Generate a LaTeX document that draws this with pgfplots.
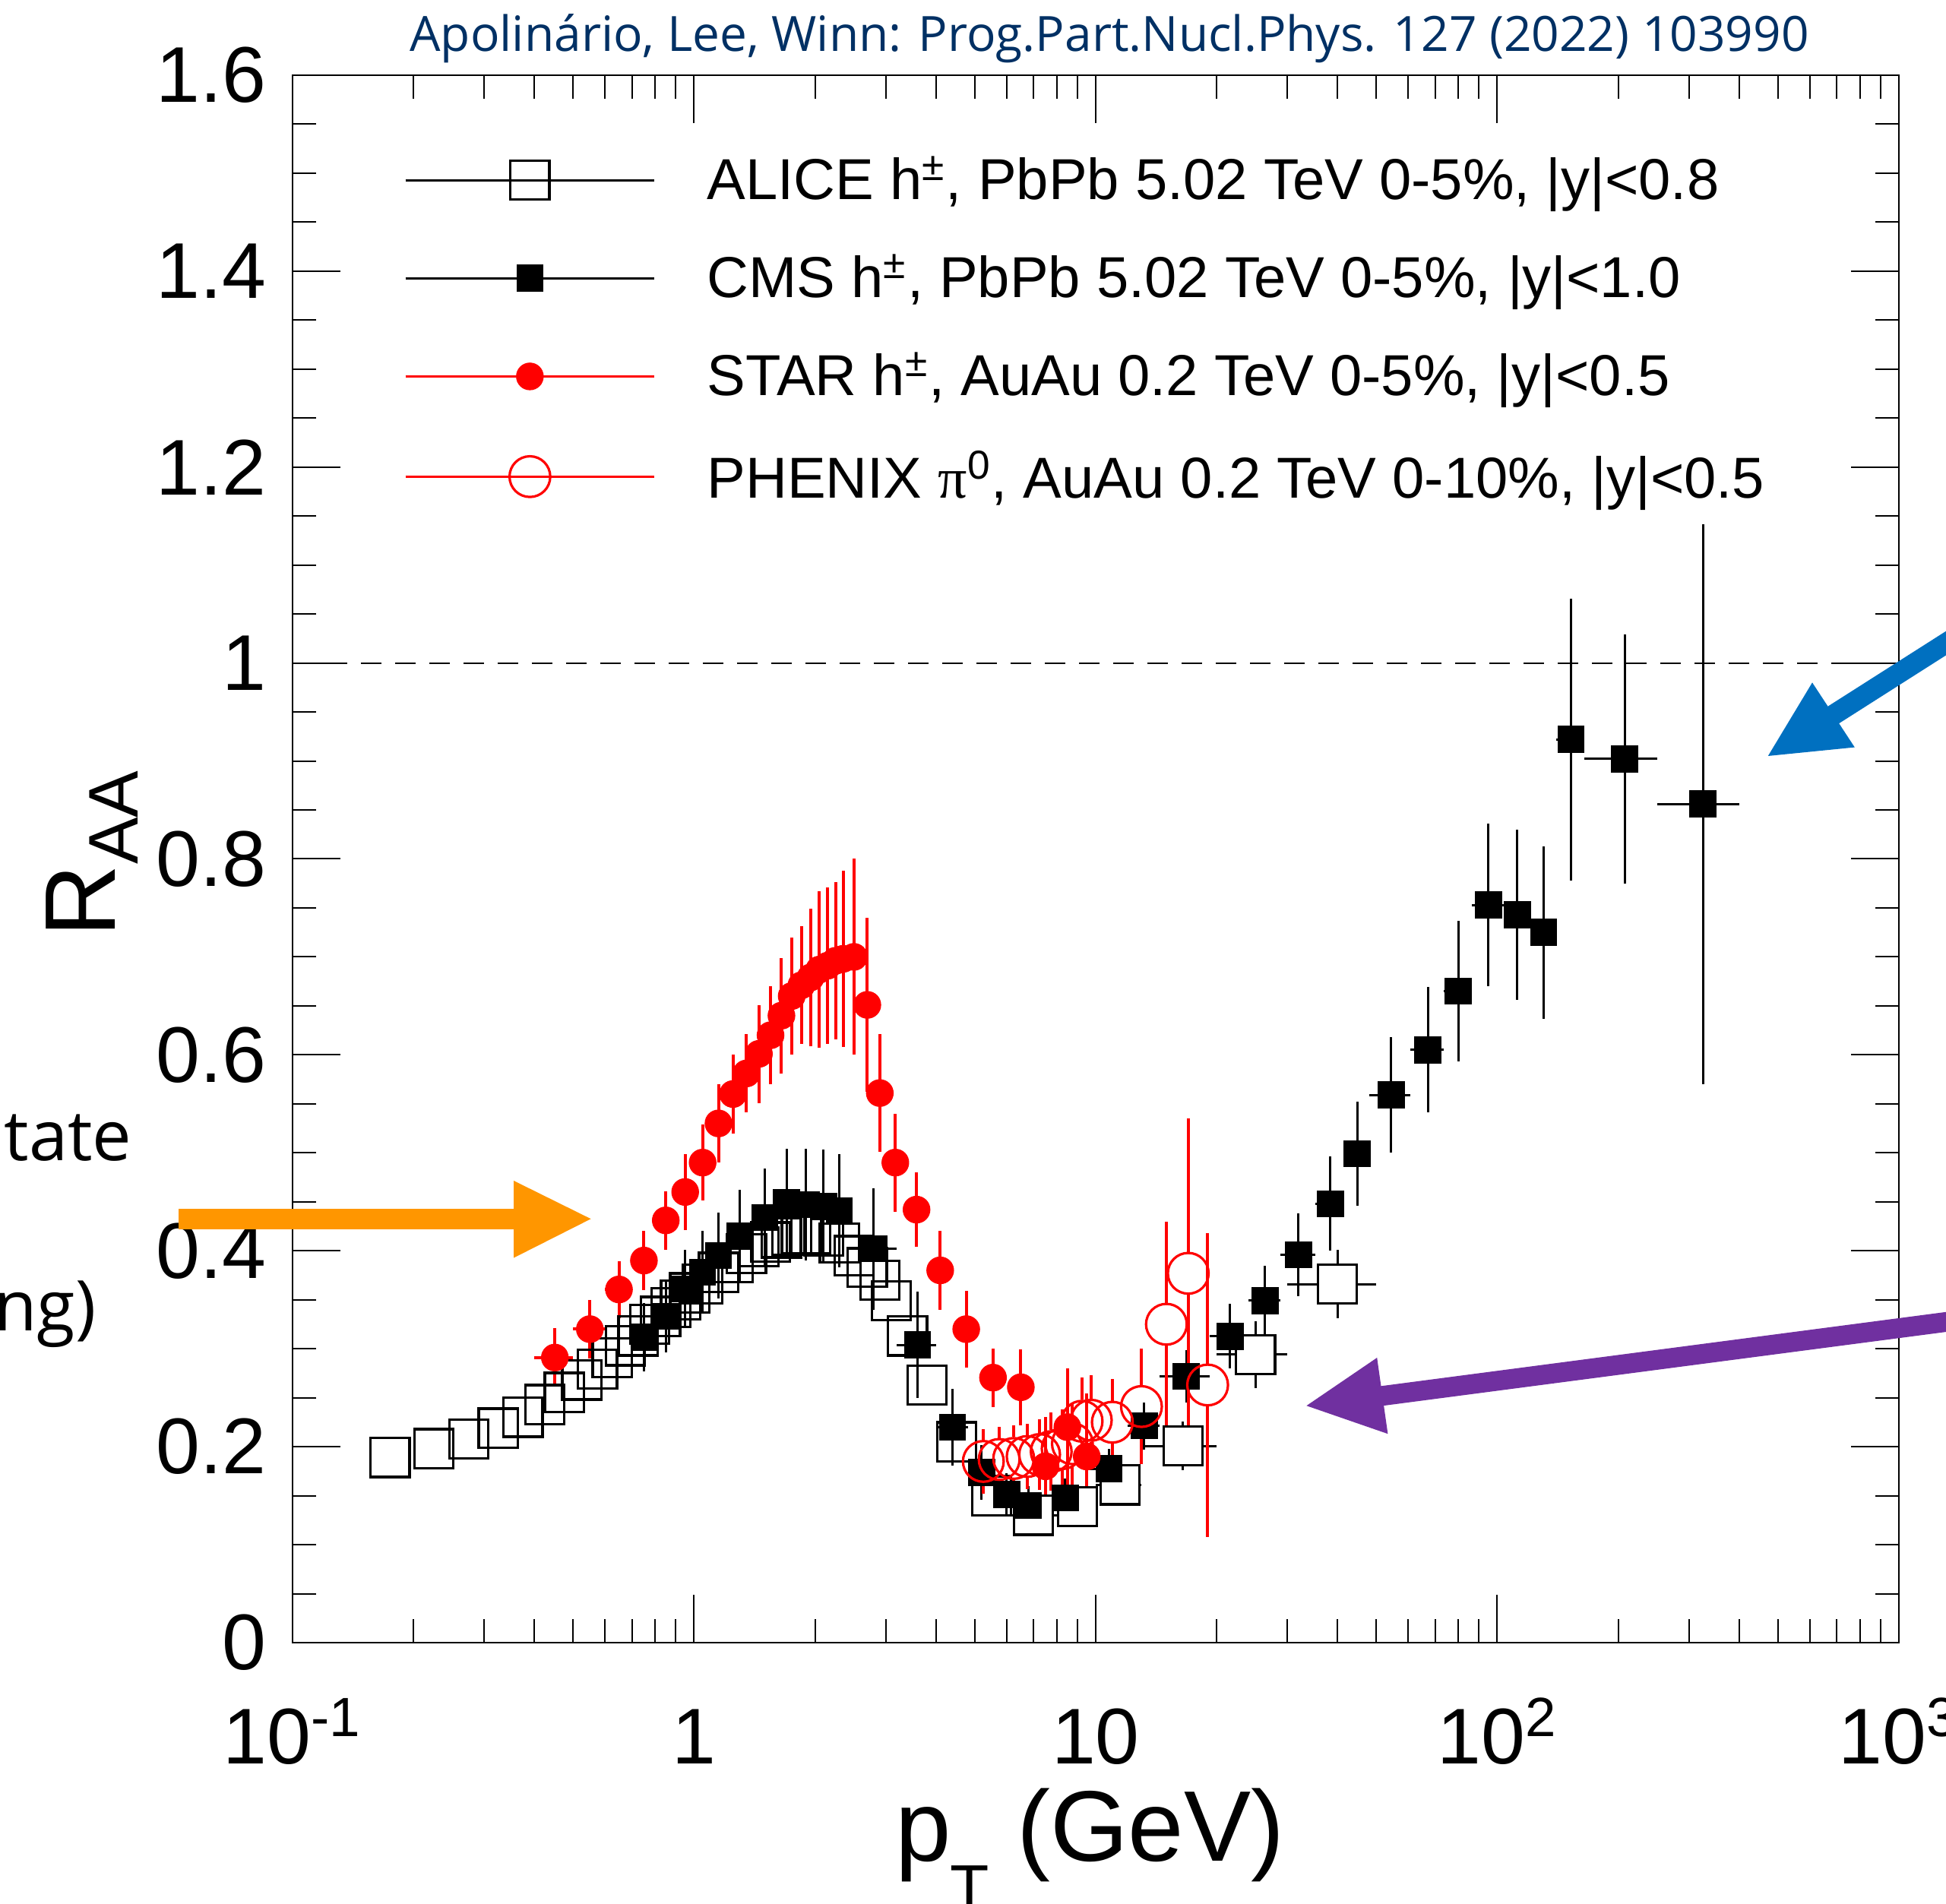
\documentclass[border=0pt]{standalone}
\usepackage{pgfplots}
\usepackage{pgfplotstable}
\pgfplotsset{compat=1.18}
\usepackage{fontspec}
\setmainfont{Liberation Sans}
\newfontfamily\slidefont{Open Sans}
\newfontfamily\greekserif{Liberation Serif}
\definecolor{citeblue}{RGB}{0,48,100}
\definecolor{arrorange}{RGB}{255,150,0}
\definecolor{arrblue}{RGB}{0,112,192}
\definecolor{arrpurple}{RGB}{112,48,160}

\pgfplotstableread{
x y
0.175 0.189
0.225 0.198
0.275 0.208
0.325 0.219
0.375 0.230
0.425 0.243
0.475 0.2555
0.525 0.268
0.575 0.279
0.625 0.291
0.675 0.303
0.725 0.313
0.775 0.325
0.825 0.333
0.875 0.342
0.925 0.350
0.975 0.357
1.05 0.366
1.15 0.378
1.25 0.388
1.35 0.397
1.45 0.404
1.55 0.409
1.65 0.413
1.75 0.416
1.85 0.417
1.95 0.417
2.1 0.415
2.3 0.408
2.5 0.395
2.7 0.383
2.9 0.370
3.1 0.349
3.4 0.313
3.8 0.263
4.5 0.205
5.5 0.150
}\alicelow

\pgfplotstableread{
x y xm xp ey
7 0.130 1 1 0.010
9 0.139 1 1 0.012
11.5 0.161 1.5 1.5 0.015
16.5 0.2007 3.5 3.5 0.025
25 0.294 5 5 0.034
40 0.366 10 10 0.035
}\alicehigh

\pgfplotstableread{
x y xm xp ey
0.75 0.312 0.05 0.05 0.035
0.85 0.333 0.05 0.05 0.037
0.95 0.361 0.05 0.05 0.040
1.05 0.378 0.05 0.05 0.042
1.15 0.395 0.05 0.05 0.044
1.3 0.415 0.1 0.1 0.047
1.5 0.434 0.1 0.1 0.050
1.7 0.449 0.1 0.1 0.055
1.9 0.447 0.1 0.1 0.057
2.1 0.445 0.1 0.1 0.058
2.3 0.441 0.1 0.1 0.058
2.8 0.402 0.4 0.4 0.062
3.6 0.304 0.4 0.4 0.054
4.4 0.220 0.4 0.4 0.039
5.2 0.1735 0.4 0.4 0.028
6.0 0.151 0.4 0.4 0.022
6.8 0.140 0.4 0.4 0.020
8.4 0.1476 1.2 1.2 0.020
10.8 0.1774 1.2 1.2 0.020
13.2 0.2213 1.2 1.2 0.024
16.8 0.2718 2.4 2.4 0.027
21.6 0.3127 2.4 2.4 0.033
26.4 0.349 2.4 2.4 0.036
32.0 0.396 3.2 3.2 0.042
38.4 0.448 3.2 3.2 0.048
44.8 0.499 3.2 3.2 0.053
54.4 0.559 6.4 6.4 0.059
67.2 0.605 6.4 6.4 0.064
80.0 0.665 6.4 6.4 0.072
95.0 0.753 8.6 8.6 0.083
112.2 0.743 8.6 8.6 0.087
130.4 0.725 9.6 9.6 0.088
152.5 0.922 12.5 12.5 0.144
207.5 0.902 42.5 42.5 0.127
325.0 0.856 75 75 0.286
}\cmsdata

\pgfplotstableread{
x y ex ey
0.45 0.291 0.05 0.030
0.55 0.320 0.05 0.030
0.65 0.3605 0.05 0.029
0.75 0.390 0.05 0.030
0.85 0.431 0.05 0.030
0.95 0.460 0.05 0.039
1.05 0.490 0.05 0.039
1.15 0.530 0.05 0.040
1.25 0.560 0.05 0.040
1.35 0.581 0.05 0.040
1.45 0.601 0.05 0.050
1.55 0.620 0.05 0.050
1.65 0.640 0.05 0.059
1.75 0.660 0.05 0.060
1.85 0.671 0.05 0.060
1.95 0.679 0.05 0.070
2.05 0.687 0.05 0.080
2.15 0.691 0.05 0.080
2.25 0.696 0.05 0.080
2.35 0.698 0.05 0.090
2.5 0.700 0.1 0.100
2.7 0.651 0.1 0.089
2.9 0.561 0.1 0.060
3.17 0.490 0.1 0.050
3.58 0.442 0.2 0.038
4.10 0.380 0.2 0.040
4.76 0.320 0.25 0.039
5.55 0.2705 0.3 0.030
6.51 0.2607 0.3 0.039
7.5 0.180 0.3 0.050
8.5 0.220 0.3 0.060
9.5 0.190 0.3 0.064
}\stardata

\pgfplotstableread{
x y
5.25 0.185
5.75 0.187
6.25 0.188
6.75 0.190
7.25 0.192
7.75 0.195
8.25 0.198
8.75 0.203
9.25 0.226
9.75 0.227
11 0.225
13 0.241
15 0.325
17 0.377
19 0.263
}\phenixdata

\pgfplotstableread{
x y
5.25 0.207
5.25 0.218
5.25 nan
5.25 0.163
5.25 0.152
5.25 nan
5.75 0.209
5.75 0.220
5.75 nan
5.75 0.165
5.75 0.154
5.75 nan
6.25 0.210
6.25 0.222
6.25 nan
6.25 0.166
6.25 0.154
6.25 nan
6.75 0.212
6.75 0.223
6.75 nan
6.75 0.168
6.75 0.157
6.75 nan
7.25 0.214
7.25 0.228
7.25 nan
7.25 0.170
7.25 0.156
7.25 nan
7.75 0.217
7.75 0.235
7.75 nan
7.75 0.173
7.75 0.155
7.75 nan
8.25 0.220
8.25 0.238
8.25 nan
8.25 0.176
8.25 0.158
8.25 nan
8.75 0.225
8.75 0.245
8.75 nan
8.75 0.181
8.75 0.161
8.75 nan
9.25 0.248
9.25 0.271
9.25 nan
9.25 0.204
9.25 0.181
9.25 nan
9.75 0.249
9.75 0.273
9.75 nan
9.75 0.205
9.75 0.181
9.75 nan
11 0.247
11 0.269
11 nan
11 0.203
11 0.181
11 nan
13 0.263
13 0.300
13 nan
13 0.219
13 0.182
13 nan
15 0.347
15 0.430
15 nan
15 0.303
15 0.220
15 nan
17 0.399
17 0.535
17 nan
17 0.355
17 0.219
17 nan
19 0.285
19 0.418
19 nan
19 0.241
19 0.108
}\phenixbars

\pgfplotsset{
  myleg/.style={legend image code/.code={%
    \draw[##1, mark=none, line width=0.75pt] (0pt,0pt) -- (81.9pt,0pt);
    \draw[##1, only marks] plot coordinates {(40.95pt,0pt)};}},
}

\begin{document}
\begin{tikzpicture}
\useasboundingbox (0pt,0pt) rectangle (640.25pt,626.5pt);
\begin{axis}[
  at={(96.25pt,86pt)}, anchor=south west,
  width=528.5pt, height=515.75pt, scale only axis,
  xmode=log, log basis x=10,
  xmin=0.1, xmax=1000, ymin=0, ymax=1.6,
  xtick={0.1,1,10,100,1000},
  xticklabels={10\textsuperscript{-1},1,10,10\textsuperscript{2},10\textsuperscript{3}},
  minor xtick={0.2,0.3,0.4,0.5,0.6,0.7,0.8,0.9,2,3,4,5,6,7,8,9,20,30,40,50,60,70,80,90,200,300,400,500,600,700,800,900},
  ytick={0,0.2,0.4,0.6,0.8,1,1.2,1.4,1.6},
  minor ytick={0.05,0.1,0.15,0.25,0.3,0.35,0.45,0.5,0.55,0.65,0.7,0.75,0.85,0.9,0.95,1.05,1.1,1.15,1.25,1.3,1.35,1.45,1.5,1.55},
  tick align=inside,
  xtick pos=both, ytick pos=both,
  major tick length=15.75pt, minor tick length=7.75pt,
  axis line style={line width=0.7pt},
  every tick/.append style={black, line width=0.5pt},
  /pgf/number format/assume math mode=true,
  tick label style={font=\fontsize{26}{30}\selectfont},
  xticklabel style={anchor=base, yshift=-39.9pt},
  yticklabel style={anchor=east, inner sep=0pt, xshift=-8.5pt},
  legend cell align=left,
  legend style={at={(axis description cs:0.0635,0.8378)}, anchor=west,
    draw=none, fill=none,
    font=\fontsize{19}{22}\selectfont, row sep=12.6pt,
    /tikz/every odd column/.append style={column sep=15pt}},
]
\addplot[black, dash pattern=on 6.75pt off 4.5pt, line width=0.5pt, forget plot] coordinates {(0.1,1) (1000,1)};

\addplot[black, only marks, mark=square, mark size=6.4pt,
  mark options={black, line width=0.8pt, solid}, myleg] table[x=x,y=y] {\alicelow};
\addlegendentry{ALICE h\textsuperscript{±}, PbPb 5.02 TeV 0-5\%, |y|<0.8}

\addplot[black, only marks, mark=square*, mark size=6.4pt, forget plot,
  mark options={draw=black, fill=white, line width=0.8pt, solid},
  error bars/.cd, x dir=both, x explicit, y dir=both, y explicit, error mark=none,
  error bar style={line width=0.75pt, black}]
  table[x=x, y=y, x error plus=xp, x error minus=xm, y error=ey] {\alicehigh};

\addplot[black, only marks, mark=square*, mark size=4.3pt,
  mark options={draw=black, fill=black, line width=0.3pt, solid}, myleg,
  error bars/.cd, x dir=both, x explicit, y dir=both, y explicit, error mark=none,
  error bar style={line width=0.75pt, black}]
  table[x=x, y=y, x error plus=xp, x error minus=xm, y error=ey] {\cmsdata};
\addlegendentry{CMS h\textsuperscript{±}, PbPb 5.02 TeV 0-5\%, |y|<1.0}

\addplot[red, only marks, mark=*, mark size=4.4pt,
  mark options={draw=red, fill=red, line width=0.3pt, solid}, myleg,
  error bars/.cd, x dir=both, x explicit, y dir=both, y explicit, error mark=none,
  error bar style={line width=1pt, red}]
  table[x=x, y=y, x error=ex, y error=ey] {\stardata};
\addlegendentry{STAR h\textsuperscript{±}, AuAu 0.2 TeV 0-5\%, |y|<0.5}

\addplot[red, only marks, mark=o, mark size=6.7pt,
  mark options={red, line width=0.8pt, solid}, myleg] table[x=x,y=y] {\phenixdata};
\addlegendentry{PHENIX {\greekserif π}\textsuperscript{0}, AuAu 0.2 TeV 0-10\%, |y|<0.5}

\addplot[red, line width=1pt, mark=none, forget plot, unbounded coords=jump] table[x=x,y=y] {\phenixbars};
\end{axis}

\node[anchor=base, inner sep=0pt, font=\slidefont\fontsize{16}{19}\selectfont, text=citeblue] at (365pt,609.5pt) {Apolinário, Lee, Winn: Prog.Part.Nucl.Phys. 127 (2022) 103990};
\node[rotate=90, anchor=base, inner sep=0pt, font=\fontsize{33}{40}\selectfont] at (38pt,345.75pt) {R\textsubscript{AA}};
\node[anchor=base west, inner sep=0pt, font=\fontsize{33}{40}\selectfont] at (294.5pt,14pt) {p\kern-0.5pt\raisebox{-16pt}{\fontsize{21}{24}\selectfont T} (GeV)};
\node[anchor=base west, inner sep=0pt, font=\slidefont\fontsize{23}{28}\selectfont] at (1.25pt,244.5pt) {tate};
\node[anchor=base east, inner sep=0pt, font=\slidefont\fontsize{23}{28}\selectfont] at (31.75pt,188.6pt) {ng)};

\begin{scope}
\clip (0pt,0pt) rectangle (640.25pt,626.5pt);
\fill[arrorange] (58.75pt,222.08pt) rectangle (170pt,228.75pt);
\fill[arrorange] (169pt,238pt) -- (194.4pt,225.43pt) -- (169pt,212.6pt) -- cycle;
\draw[arrblue, line width=6.7pt] (600.67pt,389.64pt) -- (700pt,452.9pt);
\fill[arrblue] (581.7pt,377.75pt) -- (596.25pt,401.9pt) -- (610.2pt,380.6pt) -- cycle;
\draw[arrpurple, line width=6.5pt] (451.88pt,166.81pt) -- (700pt,199.35pt);
\fill[arrpurple] (429.85pt,163.95pt) -- (453.05pt,179.75pt) -- (456.6pt,154.7pt) -- cycle;
\end{scope}
\end{tikzpicture}
\end{document}
